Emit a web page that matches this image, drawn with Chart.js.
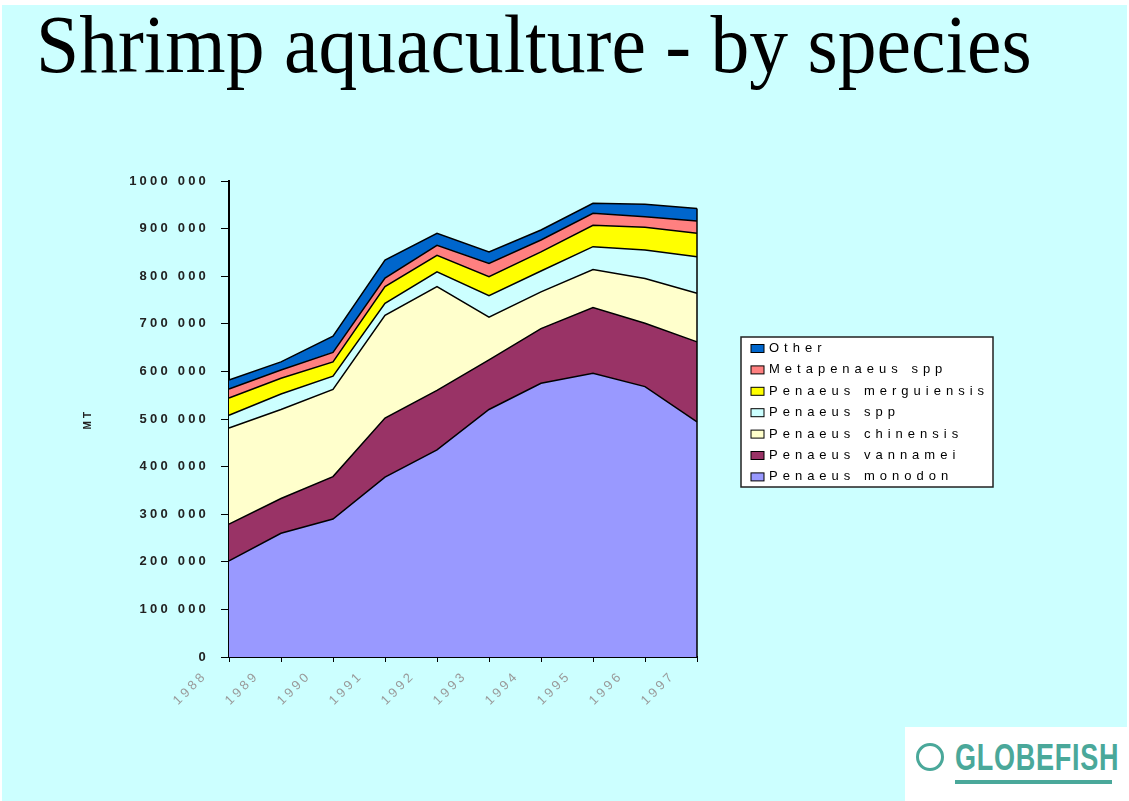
<!DOCTYPE html>
<html>
<head>
<meta charset="utf-8">
<script src="https://cdn.jsdelivr.net/npm/chart.js@4/dist/chart.umd.min.js"></script>
<style>
  body { margin: 0; background: #fff; width: 1129px; height: 801px; overflow: hidden; position: relative; }
  #slide { position: absolute; left: 2px; top: 5px; width: 1125px; height: 796px; background: #CCFFFF; }
  #title { position: absolute; left: 36px; top: 3px; font-family: "Liberation Serif", "Times New Roman", serif;
           font-size: 83px; line-height: 83px; color: #000; white-space: nowrap;
           transform: scaleX(0.935); transform-origin: left top; }
  #chart { position: absolute; left: 0; top: 0; }
  #logo { position: absolute; left: 905px; top: 727px; width: 222px; height: 74px; background: #fff; }
  #logo .emblem { position: absolute; left: 11px; top: 16px; width: 22px; height: 22px; border: 3px solid #4aa89a; border-radius: 50%; }
  #logo .name { position: absolute; left: 50px; top: 12px; font-family: "Liberation Sans", Arial, sans-serif; font-weight: bold;
                font-size: 37px; line-height: 37px; color: #4aa89a; transform: scaleX(0.73); transform-origin: left top; letter-spacing: 1px; }
  #logo .bar { position: absolute; left: 50px; top: 53px; width: 157px; height: 4px; background: #4aa89a; }
</style>
</head>
<body>
<div id="slide"></div>
<div id="title">Shrimp aquaculture - by species</div>
<canvas id="chart" width="1129" height="801"></canvas>
<div id="logo"><div class="emblem"></div><div class="name">GLOBEFISH</div><div class="bar"></div></div>
<script>
// values (tonnes), stacked bottom to top
var years = ['1988', '1989', '1990', '1991', '1992', '1993', '1994', '1995', '1996', '1997'];
var monodon     = [202000, 260000, 290000, 378000, 435000, 520000, 575000, 596000, 568000, 494000];
var vannamei    = [77000, 73000, 89000, 124000, 125000, 104000, 115000, 138000, 133000, 168000];
var chinensis   = [202000, 187000, 183000, 216000, 218000, 90000, 77000, 80000, 94000, 102000];
var penaeusSpp  = [27000, 32500, 28000, 25000, 31000, 45000, 44000, 48000, 60000, 77000];
var merguiensis = [36000, 33000, 30000, 35000, 35000, 40000, 40000, 45000, 48000, 49000];
var metapenaeus = [19000, 17500, 20000, 18000, 21000, 28000, 25000, 25000, 22000, 26000];
var other       = [19000, 17000, 34000, 38000, 25000, 24000, 21000, 21000, 26000, 26000];

function fmt(v) {
    if (v === 0) return '0';
    return Math.floor(v / 1000) + ' ' + String(v % 1000).padStart(3, '0');
}

function area(label, data, color, fill) {
    return {
        label: label, data: data, backgroundColor: color, fill: fill,
        borderColor: '#000', borderWidth: 1.5, pointRadius: 0, tension: 0
    };
}

// wide letter spacing like the original slide
var spacing = {
    id: 'spacing',
    beforeUpdate: function (chart) { chart.ctx.letterSpacing = '3.2px'; },
    beforeDraw: function (chart) { chart.ctx.letterSpacing = '3.2px'; }
};

// closing edge on the right of the stack
var rightEdge = {
    id: 'rightEdge',
    afterDatasetsDraw: function (chart) {
        var xs = chart.scales.x, ys = chart.scales.y, last = years.length - 1;
        var total = 0;
        chart.data.datasets.forEach(function (d) { total += d.data[last]; });
        var ctx = chart.ctx;
        ctx.save();
        ctx.strokeStyle = '#000';
        ctx.lineWidth = 1.5;
        ctx.beginPath();
        ctx.moveTo(xs.getPixelForValue(last), ys.getPixelForValue(0));
        ctx.lineTo(xs.getPixelForValue(last), ys.getPixelForValue(total));
        ctx.stroke();
        ctx.restore();
    }
};

// boxed legend, top series first
var legendBox = {
    id: 'legendBox',
    afterDraw: function (chart) {
        var ctx = chart.ctx;
        var x0 = 741, y0 = 337, w = 252, h = 150;
        ctx.save();
        ctx.letterSpacing = '5px';
        ctx.fillStyle = '#fff';
        ctx.fillRect(x0, y0, w, h);
        ctx.strokeStyle = '#222';
        ctx.lineWidth = 1.5;
        ctx.strokeRect(x0, y0, w, h);
        ctx.font = '13px "Liberation Sans", Arial, sans-serif';
        ctx.textBaseline = 'middle';
        var ds = chart.data.datasets.slice().reverse();
        ds.forEach(function (d, i) {
            var cy = 348.5 + i * 21.4;
            ctx.fillStyle = d.backgroundColor;
            ctx.fillRect(751, cy - 4, 13, 8);
            ctx.lineWidth = 1;
            ctx.strokeStyle = '#000';
            ctx.strokeRect(751, cy - 4, 13, 8);
            ctx.fillStyle = '#000';
            ctx.fillText(d.label, 769, cy);
        });
        ctx.restore();
    }
};

var ctx = document.getElementById('chart').getContext('2d');
var myChart = new Chart(ctx, {
    type: 'line',
    data: {
        labels: years,
        datasets: [
            area('Penaeus monodon', monodon, '#9999FF', 'origin'),
            area('Penaeus vannamei', vannamei, '#993366', '-1'),
            area('Penaeus chinensis', chinensis, '#FFFFCC', '-1'),
            area('Penaeus spp', penaeusSpp, '#CCFFFF', '-1'),
            area('Penaeus merguiensis', merguiensis, '#FFFF00', '-1'),
            area('Metapenaeus spp', metapenaeus, '#FF8080', '-1'),
            area('Other', other, '#0066CC', '-1')
        ]
    },
    options: {
        responsive: false,
        animation: false,
        layout: { padding: { left: 78, right: 432, top: 181, bottom: 84 } },
        plugins: {
            legend: { display: false },
            tooltip: { enabled: false }
        },
        scales: {
            x: {
                offset: false,
                afterFit: function (s) { s.height = 60; },
                border: { display: true, color: '#000', width: 2 },
                grid: { display: true, drawOnChartArea: false, tickLength: 5, color: '#000' },
                ticks: {
                    autoSkip: false, minRotation: 45, maxRotation: 45, labelOffset: -24, padding: 6,
                    color: '#9a9a9a',
                    font: { family: '"Liberation Sans", Arial, sans-serif', size: 13 }
                }
            },
            y: {
                stacked: true,
                min: 0, max: 1000000,
                afterFit: function (s) { s.width = 151; },
                border: { display: true, color: '#000', width: 2 },
                grid: { display: true, drawOnChartArea: false, tickLength: 8, color: '#000' },
                title: {
                    display: true, text: 'MT', color: '#222',
                    font: { family: '"Liberation Sans", Arial, sans-serif', size: 10, weight: 'bold' }
                },
                ticks: {
                    stepSize: 100000, padding: 12, color: '#222',
                    font: { family: '"Liberation Sans", Arial, sans-serif', size: 13, weight: 'bold' },
                    callback: function (v) { return fmt(v); }
                }
            }
        }
    },
    plugins: [spacing, rightEdge, legendBox]
});
</script>
</body>
</html>
